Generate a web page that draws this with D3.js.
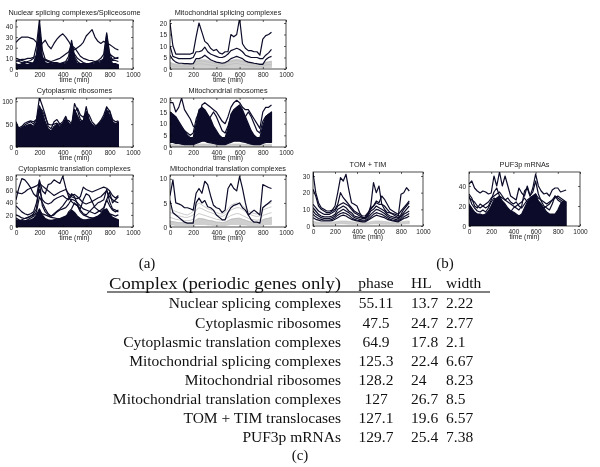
<!DOCTYPE html>
<html><head><meta charset="utf-8">
<script src="https://cdn.jsdelivr.net/npm/d3@7"></script>
<style>body{margin:0;background:#fff}svg{display:block;will-change:transform}</style>
</head><body>
<svg id="c" width="600" height="467"></svg>
<script>
// ---------- data ----------
const timeMin = [0,25,50,75,100,125,150,175,200,225,250,275,300,325,350,375,400,425,450,475,500,525,550,575,600,625,650,675,700,725,750,775,800,825,850,875];
const xTickVals = [0,200,400,600,800,1000];

// Nuclear splicing complexes/Spliceosome
const nucBandHi = [5,4,5,5,4,5, 6,14,40,12,6,5, 5,4,5,5,4,5, 8,24,10,5,5,4, 5,5,4,5,5,6, 10,32,12,5,5,4];
const nucA = [25,28,30,30,30,29, 28,25,20,24,27,22, 19,24,28,31,33,30, 26,21,18,20,22,25, 31,34,37,30,26,24, 26,24,23,21,19,18];
const nucB = [8,7,6,6,7,8, 10,22,46,18,9,7, 6,5,5,5,6,7, 12,27,12,7,5,5, 5,5,6,7,8,10, 14,34,15,8,8,7];
const nucC = [10,9,8,7,6,6, 5,8,12,10,9,8, 7,8,9,10,12,14, 16,22,20,16,12,10, 9,8,8,7,7,8, 9,12,14,12,10,10];
const nucD = [7,8,9,9,10,10, 11,12,14,10,8,7, 6,6,6,5,5,6, 8,18,14,10,8,6, 5,5,5,6,6,7, 8,20,10,9,10,11];
const nucE = [3,3,4,4,4,5, 5,6,8,6,5,4, 4,4,3,3,4,4, 5,8,6,5,4,4, 3,3,3,4,4,5, 6,8,6,5,4,4];

// Mitochondrial splicing complexes
const msA = [20,10,6.5,6.5,6.5,6.5, 6.5,6.5,7,14,20,16, 12,11,9,8,8.5,7, 6.5,7.5,7.5,15,14,15, 22,11,9,8,8,7.5, 7.5,6,13,14.5,15,16];
const msB = [10,5.5,5,4.5,4.5,4.5, 4.5,4.5,5,7.5,7.5,8, 9.5,7.5,6.5,6,5.5,5, 5,5.5,6.5,8,8.5,9, 8.5,7.5,6,5.5,5,5, 5,4.5,4.5,6,7,8.5];
const msC = [6,4,3,2.5,2.5,2.3, 2.3,2.2,2.3,4.5,4.5,5, 6,5,4,3.5,3,2.8, 2.5,2.8,3.5,4.5,5,5.5, 5,4.5,3.5,3,2.8,2.5, 2.3,2,2,4,5,5.5];
const msGrayHi = [3,2.5,2.2,2,2,2, 2,2.2,2.5,3.5,4,4, 4,3.8,3.5,3,2.8,2.5, 2.5,2.8,3.2,3.8,4,4.2, 4,3.8,3.5,3,2.8,2.5, 2.5,2.3,2.5,3,3.2,3.5];
const msGrayLo = [0.5,0.5,0.5,0.5,0.5,0.5, 0.5,0.5,0.5,0.6,0.6,0.6, 0.6,0.6,0.5,0.5,0.5,0.5, 0.5,0.5,0.5,0.6,0.6,0.6, 0.6,0.6,0.5,0.5,0.5,0.5, 0.5,0.5,0.5,0.6,0.6,0.6];
const msG1 = [2.5,2,1.8,1.7,1.7,1.7, 1.8,1.9,2.2,3,3.5,3.4, 3.3,3,2.8,2.5,2.2,2, 2,2.3,2.8,3.3,3.5,3.6, 3.4,3.1,2.8,2.5,2.2,2, 2,1.9,2.1,2.6,2.9,3.1];
const msG2 = [1.5,1.2,1.1,1,1,1, 1,1.1,1.3,2,2.3,2.2, 2.1,1.9,1.7,1.5,1.3,1.2, 1.2,1.4,1.8,2.1,2.3,2.4, 2.2,2,1.8,1.5,1.3,1.2, 1.2,1.1,1.3,1.7,1.9,2];

// Cytoplasmic ribosomes
const crBandHi = [50,38,42,45,48,50, 45,55,90,75,55,40, 35,45,50,45,52,62, 52,48,82,68,55,58, 78,58,50,45,50,55, 65,82,70,55,50,55];
const crA = [55,40,42,48,52,55, 50,60,108,90,70,45, 40,55,60,50,55,67, 50,45,95,80,60,55, 88,60,45,42,50,58, 70,88,78,55,50,52];
const crB = [45,42,45,52,55,57, 55,60,85,80,65,50, 48,50,52,48,50,55, 58,50,75,85,70,65, 75,70,55,48,45,50, 60,75,80,60,55,57];

// Mitochondrial ribosomes
const mrBandHi = [15,14,13,11,9,7, 5,4,4,10,16,17, 16,14,12,9,7,5, 4,4,8,14,16,17, 18,16,13,10,7,5, 4,4,9,13,14,15];
const mrBandLo = [2,2,1.5,1.5,1.2,1, 1,1,1,1.5,2,2.5, 2.5,2,1.8,1.5,1.2,1, 1,1,1.5,2,2.5,2.5, 2.5,2.2,2,1.5,1.2,1, 1,1,1.5,2,2,2];
const mrA = [19,19,15,17,21,16, 14,12,9,8,10,18, 19,18,17,16,15,13, 11,10,13,17,19,20, 19,17,16,16,14,12, 10,8,15,17,17,18];
const mrB = [12,11,10,9,8,7, 6,5,6,12,15,14, 12,11,13,15,13,10, 7,6,9,13,15,14, 12,11,13,15,13,10, 7,6,11,13,14,14];
const mrGrayHi = [1.2,1.1,1,1,0.9,0.9, 0.9,0.9,0.9,1,1.2,1.3, 1.3,1.2,1.1,1,1,0.9, 0.9,0.9,1,1.2,1.3,1.3, 1.3,1.2,1.1,1,1,0.9, 0.9,0.9,1,1.2,1.2,1.2];

// Cytoplasmic translation complexes
const ctBandHi = [12,11,10,10,11,12, 14,20,30,20,14,12, 11,12,13,14,16,18, 22,28,24,18,14,12, 12,13,14,16,18,22, 28,30,22,16,14,12];
const ctA = [45,65,80,78,72,65, 55,50,78,60,55,70, 72,78,75,72,84,65, 50,42,38,35,30,45, 55,52,42,32,28,25, 30,45,58,40,45,50];
const ctB = [58,56,55,58,62,64, 66,68,72,68,64,60, 56,52,55,58,60,62, 55,50,48,47,50,66, 62,60,58,60,62,64, 66,64,60,52,48,52];
const ctC = [35,30,25,22,20,22, 25,40,62,45,40,38, 40,45,48,50,52,48, 45,52,54,50,45,40, 38,40,42,45,48,50, 55,60,50,45,42,40];
const ctD = [20,18,15,14,15,18, 22,30,75,35,25,20, 18,22,26,30,35,42, 48,55,50,38,28,22, 20,25,30,35,40,42, 45,62,42,30,28,25];
const ctE = [8,10,12,14,16,18, 20,22,25,22,20,18, 16,15,14,13,12,15, 25,30,40,35,25,20, 18,16,15,14,15,18, 20,25,22,20,18,20];
const ctF = [15,12,10,10,12,15, 18,25,50,40,30,22, 18,20,25,28,30,32, 38,46,44,40,35,30, 28,26,24,22,25,28, 32,45,35,28,25,28];

// Mitochondrial translation complexes
const mtA = [6.5,9.8,5,4.8,4.5,4, 4,3.8,3.5,7,8,7, 9.5,8.8,6.5,4.5,4,3.8, 3,3.5,8,9,8,7.5, 10.5,8,5,2.5,3,3.5, 3,2.5,8.8,8.5,8.2,8];
const mtB = [5.5,3,2.5,2,1.5,1, 0.8,0.8,0.8,5,6,5, 5.5,4.2,4,3.5,2.5,2, 1.5,1.5,3,4,4.5,4.7, 5,4,3.5,2.5,1.5,1, 1,0.8,4,4.5,5,5.5];
const mtG1 = [3,2.8,2.5,2.3,2.2,2, 2,2.2,2.5,3.5,4,3.8, 3.5,3.2,3,2.8,2.5,2.3, 2.2,2.5,3,3.5,3.8,4, 4,3.6,3.2,2.8,2.5,2.3, 2.2,2.3,3.5,3.8,4,4.2];
const mtG2 = [2,1.8,1.6,1.5,1.4,1.3, 1.3,1.4,1.6,2.4,2.8,2.6, 2.4,2.2,2,1.8,1.6,1.5, 1.4,1.6,2,2.4,2.6,2.8, 2.7,2.4,2.1,1.8,1.6,1.5, 1.4,1.5,2.4,2.6,2.8,3];
const mtG3 = [1.2,1.1,1,0.9,0.9,0.8, 0.8,0.9,1,1.5,1.8,1.7, 1.6,1.4,1.3,1.2,1,1, 0.9,1,1.3,1.6,1.7,1.8, 1.8,1.6,1.4,1.2,1,1, 0.9,1,1.5,1.7,1.8,2];
const mtG4 = [4,3.5,3.2,3,2.8,2.6, 2.5,2.8,3.2,4.5,5,4.6, 4.2,3.8,3.6,3.3,3,2.8, 2.7,3,3.8,4.5,4.8,5, 4.8,4.4,3.9,3.4,3,2.8, 2.7,2.8,4.2,4.6,4.8,5];
const mtGrayLo = [0.4,0.4,0.3,0.3,0.3,0.3, 0.3,0.3,0.3,0.5,0.5,0.5, 0.5,0.4,0.4,0.3,0.3,0.3, 0.3,0.3,0.4,0.5,0.5,0.5, 0.5,0.4,0.4,0.3,0.3,0.3, 0.3,0.3,0.4,0.5,0.5,0.5];

// TOM + TIM
const tmA = [32,20,14,11,10,9, 9,9.5,12,20,29,27, 31,22,14,13,12,8, 5,5,7,12,26,20, 24,13,10,8,8,7.5, 7,6,19,20,23,21];
const tmB = [22,18,12,10,9,8, 8,9,10,13,20,17, 15,13,11,9,8,7, 6,6,8,10,12,15, 14,18,16,13,10,9, 8,7,9,11,13,15];
const tmM1 = [13,11,9,8,7,7, 7,8,9,12,13,14, 13,12,10,8,7,6, 5,5,7,11,12,14, 13,13,12,10,8,7, 6,5,7,10,12,14];
const tmM2 = [11,9,7,6,5.5,5.5, 5.5,6,7,10,11,12, 11,9,8,6,5.5,5, 4.5,4.5,6,9,10,12, 11,10,9,7,6,5.5, 5,4.5,6,8,10,12];
const tmM3 = [9,7,6,5,4.5,4.5, 4.5,5,6,8,9,10, 9,8,6.5,5,4.5,4, 3.5,3.5,5,7,8.5,10, 9.5,8.5,7.5,6,5,4.5, 4,3.5,5,7,8,9];
const tmM4 = [7,5.5,4.5,4,3.5,3.5, 3.5,4,5,6.5,7.5,8, 7.5,6.5,5,4,3.5,3.2, 3,3,4,5.5,7,8, 7.5,7,6,5,4,3.5, 3.2,3,4,5.5,6.5,7.5];
const tmM5 = [5,4,3.5,3,3,3, 3,3.2,4,5,6,6.5, 6,5,4,3.5,3,2.8, 2.5,2.5,3.5,4.5,5.5,6.5, 6,5.5,5,4,3.5,3, 2.8,2.5,3.5,4.5,5,6];
const tmGrayHi = [2.8,2.5,2.3,2.2,2.2,2.2, 2.2,2.3,2.5,2.8,3,3, 3,2.8,2.6,2.4,2.3,2.2, 2.1,2.1,2.3,2.6,2.9,3, 3,2.9,2.7,2.5,2.3,2.2, 2.1,2.1,2.4,2.7,2.9,3];
const tmGrayLo = [1,1,1,1,1,1, 1,1,1,1.2,1.3,1.3, 1.2,1.1,1,1,1,1, 1,1,1,1.2,1.3,1.3, 1.2,1.1,1,1,1,1, 1,1,1,1.2,1.3,1.3];

// PUF3p mRNAs
const pfBandHi = [22,18,14,12,12,11, 12,15,20,26,28,30, 25,22,18,15,14,12, 10,12,18,24,28,30, 32,25,22,18,14,12, 12,12,16,22,25,24];
const pfA = [42,45,38,35,33,35, 34,32,33,50,40,54, 40,50,40,30,28,26, 38,33,30,40,30,38, 52,40,35,32,33,30, 36,38,38,34,35,36];
const pfB = [32,28,20,18,22,20, 18,20,26,34,38,30, 28,26,24,22,20,18, 16,20,35,38,30,34, 45,32,25,20,18,16, 22,30,28,26,24,22];
const pfC = [28,26,24,20,18,20, 22,24,28,30,32,34, 30,26,28,24,22,24, 20,18,22,26,28,30, 32,28,26,24,22,24, 26,28,30,28,26,24];
const pfD = [30,22,18,15,14,16, 14,18,24,28,26,24, 20,18,16,14,18,20, 22,24,28,24,22,26, 28,24,20,18,20,22, 26,30,26,24,22,20];

// Table
const complexNames = ["Nuclear splicing complexes","Cytoplasmic ribosomes","Cytoplasmic translation complexes","Mitochondrial splicing complexes","Mitochondrial ribosomes","Mitochondrial translation complexes","TOM + TIM translocases","PUF3p mRNAs"];
const phaseVals = ["55.11","47.5","64.9","125.3","128.2","127","127.1","129.7"];
const hlVals = ["13.7","24.7","17.8","22.4","24","26.7","19.6","25.4"];
const widthVals = ["2.22","2.77","2.1","6.67","8.23","8.5","6.57","7.38"];

// ---------- layout ----------
const panels = [
  {title:"Nuclear splicing complexes/Spliceosome", box:[16,20,133,69], yMax:46, yTicks:[0,10,20,30,40], titleY:12,
   bands:[{hi:nucBandHi}], lines:[nucE,nucD,nucC,nucB,nucA], grayBands:[], grays:[]},
  {title:"Mitochondrial splicing complexes", box:[170,20,286,69], yMax:21.3, yTicks:[0,5,10,15,20], titleY:12,
   bands:[], lines:[msC,msB,msA], grayBands:[{hi:msGrayHi, lo:msGrayLo}], grays:[msG1,msG2]},
  {title:"Cytoplasmic ribosomes", box:[16,98,133,147], yMax:107, yTicks:[0,50,100], titleY:90,
   bands:[{hi:crBandHi}], lines:[crB,crA], grayBands:[], grays:[]},
  {title:"Mitochondrial ribosomes", box:[170,98,286,147], yMax:21, yTicks:[0,5,10,15,20], titleY:90,
   bands:[{hi:mrBandHi, lo:mrBandLo}], lines:[mrB,mrA], grayBands:[{hi:mrGrayHi}], grays:[]},
  {title:"Cytoplasmic translation complexes", box:[16,175,133,227], yMax:86, yTicks:[0,20,40,60,80], titleY:168,
   bands:[{hi:ctBandHi}], lines:[ctE,ctF,ctD,ctC,ctB,ctA], grayBands:[], grays:[]},
  {title:"Mitochondrial translation complexes", box:[170,175,286,227], yMax:10.8, yTicks:[0,5,10], titleY:168,
   bands:[], lines:[mtB,mtA], grayBands:[{hi:mtG3, lo:mtGrayLo}], grays:[mtG1,mtG2,mtG3,mtG4]},
  {title:"TOM + TIM", box:[313,172,423,226], yMax:32.4, yTicks:[0,10,20,30], titleY:164,
   bands:[], lines:[tmM5,tmM4,tmM3,tmM2,tmM1,tmB,tmA], grayBands:[{hi:tmGrayHi, lo:tmGrayLo}], grays:[]},
  {title:"PUF3p mRNAs", box:[469,172,580,226], yMax:54, yTicks:[0,20,40], titleY:164,
   bands:[{hi:pfBandHi}], lines:[pfD,pfC,pfB,pfA], grayBands:[], grays:[]}
];

const DARK = "#0c0c2a";
const GRAY = "#bcbcbc";
const SANS = "'Liberation Sans', Arial, Helvetica, sans-serif";
const SERIF = "'Liberation Serif', 'Times New Roman', serif";

const svg = d3.select("#c");
svg.append("rect").attr("width",600).attr("height",467).attr("fill","#fff");

panels.forEach((p, k) => {
  const [l, t, r, b] = p.box;
  const x = d3.scaleLinear().domain([0,1000]).range([l, r]);
  const y = d3.scaleLinear().domain([0,p.yMax]).range([b, t]);
  const g = svg.append("g");
  const cid = "clip" + k;
  svg.append("clipPath").attr("id", cid).append("rect").attr("x", l).attr("y", t).attr("width", r-l).attr("height", b-t);
  const plot = g.append("g").attr("clip-path", `url(#${cid})`);

  const lineGen = d3.line().x((d,i) => x(timeMin[i])).y(d => y(d));
  const areaGen = (lo) => d3.area().x((d,i) => x(timeMin[i])).y1(d => y(d)).y0((d,i) => lo ? y(lo[i]) : y(0));

  p.grayBands.forEach(gb => {
    plot.append("path").attr("d", areaGen(gb.lo)(gb.hi)).attr("fill", "#cfcfcf").attr("stroke", GRAY).attr("stroke-width", 0.6);
  });
  p.grays.forEach(s => {
    plot.append("path").attr("d", lineGen(s)).attr("fill","none").attr("stroke", GRAY).attr("stroke-width", 0.8);
  });
  p.bands.forEach(bd => {
    plot.append("path").attr("d", areaGen(bd.lo)(bd.hi)).attr("fill", DARK).attr("stroke", DARK).attr("stroke-width", 1.2).attr("stroke-linejoin","round");
  });
  p.lines.forEach(s => {
    plot.append("path").attr("d", lineGen(s)).attr("fill","none").attr("stroke", DARK).attr("stroke-width", 1.2).attr("stroke-linejoin","round");
  });

  // box
  g.append("rect").attr("x", l).attr("y", t).attr("width", r-l).attr("height", b-t)
    .attr("fill","none").attr("stroke","#000").attr("stroke-width",0.7);

  const styleAxis = sel => {
    sel.select(".domain").remove();
    sel.selectAll(".tick line").attr("stroke","#000").attr("stroke-width",0.6);
    sel.selectAll("text").attr("font-family", SANS).attr("font-size", 6.5).attr("fill","#222");
  };
  g.append("g").attr("transform",`translate(0,${b})`)
    .call(d3.axisBottom(x).tickValues(xTickVals).tickSizeInner(-2).tickSizeOuter(0).tickPadding(3).tickFormat(d3.format("d")))
    .call(styleAxis);
  g.append("g").attr("transform",`translate(0,${t})`)
    .call(d3.axisTop(x).tickValues(xTickVals).tickSizeInner(-2).tickSizeOuter(0).tickFormat(""))
    .call(styleAxis);
  g.append("g").attr("transform",`translate(${l},0)`)
    .call(d3.axisLeft(y).tickValues(p.yTicks).tickSizeInner(-2).tickSizeOuter(0).tickPadding(3).tickFormat(d3.format("d")))
    .call(styleAxis);
  g.append("g").attr("transform",`translate(${r},0)`)
    .call(d3.axisRight(y).tickValues(p.yTicks).tickSizeInner(-2).tickSizeOuter(0).tickFormat(""))
    .call(styleAxis);

  g.append("text").attr("x", (l+r)/2).attr("y", b + 11).attr("dy","0.35em")
    .attr("text-anchor","middle").attr("font-family", SANS).attr("font-size", 6.8).attr("fill","#222").text("time (min)");
  g.append("text").attr("x", (l+r)/2).attr("y", p.titleY).attr("dy","0.35em")
    .attr("text-anchor","middle").attr("font-family", SANS).attr("font-size", 7.3).attr("fill","#222").text(p.title);
});

// sub-figure labels
const lab = (txt, xx, yy) => svg.append("text").attr("x", xx).attr("y", yy).attr("dy","0.35em")
  .attr("text-anchor","middle").attr("font-family", SERIF).attr("font-size", 15).attr("fill","#111").text(txt);
lab("(a)", 147, 263);
lab("(b)", 445, 263);

// table
const fs = 15.5;
const tbl = svg.append("g").attr("font-family", SERIF).attr("font-size", fs).attr("fill","#111");
const nameX = 341, phaseX = 376, hlX = 411, widthX = 446;
const headerY = 283;
tbl.append("text").attr("x", nameX).attr("y", headerY).attr("dy","0.35em").attr("text-anchor","end")
  .attr("font-size", 16).attr("textLength", 232).attr("lengthAdjust","spacingAndGlyphs").text("Complex (periodic genes only)");
tbl.append("text").attr("x", phaseX).attr("y", headerY).attr("dy","0.35em").attr("text-anchor","middle").text("phase");
tbl.append("text").attr("x", hlX).attr("y", headerY).attr("dy","0.35em").attr("text-anchor","start").text("HL");
tbl.append("text").attr("x", widthX).attr("y", headerY).attr("dy","0.35em").attr("text-anchor","start").text("width");
svg.append("line").attr("x1",107).attr("x2",490).attr("y1",292).attr("y2",292).attr("stroke","#000").attr("stroke-width",1);

const rowY = d3.scalePoint().domain(d3.range(complexNames.length)).range([303, 437]);
complexNames.forEach((nm, i) => {
  const yy = rowY(i);
  tbl.append("text").attr("x", nameX).attr("y", yy).attr("dy","0.35em").attr("text-anchor","end").text(nm);
  tbl.append("text").attr("x", phaseX).attr("y", yy).attr("dy","0.35em").attr("text-anchor","middle").text(phaseVals[i]);
  tbl.append("text").attr("x", hlX).attr("y", yy).attr("dy","0.35em").attr("text-anchor","start").text(hlVals[i]);
  tbl.append("text").attr("x", widthX).attr("y", yy).attr("dy","0.35em").attr("text-anchor","start").text(widthVals[i]);
});
lab("(c)", 300, 455);
</script>
</body></html>
